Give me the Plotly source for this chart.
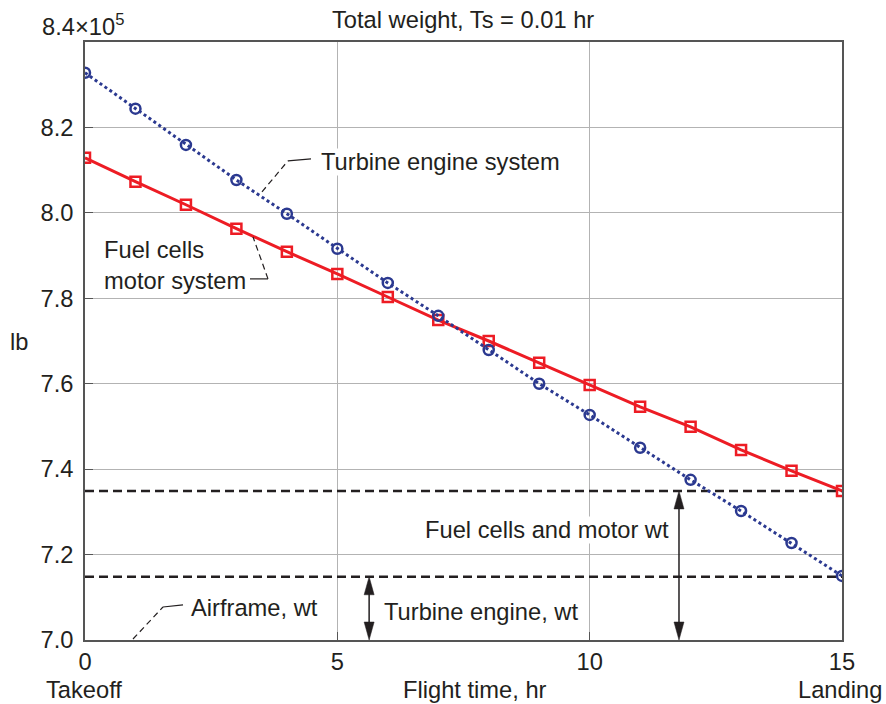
import plotly.graph_objects as go

# ---- data (values in 10^5 lb) ----
hours = list(range(16))
turbine_weight = [8.328, 8.244, 8.159, 8.077, 7.998, 7.916, 7.836, 7.759,
                  7.679, 7.600, 7.527, 7.450, 7.375, 7.302, 7.227, 7.150]
fuelcell_weight = [8.129, 8.073, 8.019, 7.963, 7.909, 7.857, 7.803, 7.749,
                   7.700, 7.649, 7.597, 7.546, 7.499, 7.445, 7.396, 7.349]
fuelcell_landing_level = 7.349
turbine_landing_level = 7.148
airframe_level = 7.0
x_ticks = [0, 5, 10, 15]
x_tick_labels = ["0", "5", "10", "15"]
y_ticks = [7.0, 7.2, 7.4, 7.6, 7.8, 8.0, 8.2]
y_tick_labels = ["7.0", "7.2", "7.4", "7.6", "7.8", "8.0", "8.2"]
turbine_arrow_x = 5.63
fuelcell_arrow_x = 11.77

FONT = "Liberation Sans, Arial, Helvetica, sans-serif"
TXT = "#231f20"
FS = 23.7
BLUE = "#2b3990"
RED = "#ed1c24"

W, H = 886, 704
L, R, T, B = 85, 44, 42, 64
pw, ph = W - L - R, H - T - B
X_PER_PX = 15 / pw
Y_PER_PX = 1.4 / ph

fig = go.Figure()

# dashed landing levels
for lvl in [fuelcell_landing_level, turbine_landing_level]:
    fig.add_trace(go.Scatter(x=[hours[0], hours[-1]], y=[lvl, lvl], mode="lines",
                             line=dict(color="#231f20", width=2.6, dash="9px,5px"),
                             hoverinfo="skip", showlegend=False))

fig.add_trace(go.Scatter(x=hours, y=fuelcell_weight, mode="lines+markers",
                         line=dict(color=RED, width=3),
                         marker=dict(symbol="square-open", size=10, color=RED,
                                     line=dict(width=2.5, color=RED)),
                         showlegend=False))
fig.add_trace(go.Scatter(x=hours, y=turbine_weight, mode="lines+markers",
                         line=dict(color=BLUE, width=3, dash="dot"),
                         marker=dict(symbol="circle-open", size=10, color=BLUE,
                                     line=dict(width=2.5, color=BLUE)),
                         showlegend=False))

# leader lines
def leader(pts_dash, pts_solid):
    fig.add_trace(go.Scatter(x=[p[0] for p in pts_dash], y=[p[1] for p in pts_dash],
                             mode="lines", line=dict(color=TXT, width=1.2, dash="6px,4px"),
                             hoverinfo="skip", showlegend=False))
    fig.add_trace(go.Scatter(x=[p[0] for p in pts_solid], y=[p[1] for p in pts_solid],
                             mode="lines", line=dict(color=TXT, width=1.2),
                             hoverinfo="skip", showlegend=False))

leader([(0.951, 7.0023), (1.545, 7.0773)], [(1.545, 7.0773), (1.942, 7.082)])
leader([(3.507, 8.0492), (4.022, 8.1218)], [(4.022, 8.1218), (4.478, 8.1265)])
leader([(3.626, 7.8454), (3.329, 7.9438)], [(3.269, 7.8454), (3.626, 7.8454)])

# double-headed arrows (shaft + filled heads)
HEAD_LEN = 18 * Y_PER_PX
HEAD_HALF = 5 * X_PER_PX
for ax_x, top in [(turbine_arrow_x, turbine_landing_level), (fuelcell_arrow_x, fuelcell_landing_level)]:
    bot = airframe_level
    fig.add_trace(go.Scatter(x=[ax_x, ax_x], y=[bot + HEAD_LEN * 0.5, top - HEAD_LEN * 0.5],
                             mode="lines", line=dict(color=TXT, width=1.5),
                             hoverinfo="skip", showlegend=False))
    for tip, base in [(top, top - HEAD_LEN), (bot, bot + HEAD_LEN)]:
        fig.add_trace(go.Scatter(x=[ax_x, ax_x - HEAD_HALF, ax_x + HEAD_HALF, ax_x],
                                 y=[tip, base, base, tip], mode="lines", fill="toself",
                                 fillcolor=TXT, line=dict(color=TXT, width=0.5),
                                 hoverinfo="skip", showlegend=False))

annotations = []

def label(text, x, y, xanchor="left", align="left"):
    annotations.append(dict(x=x, y=y, xref="x", yref="y", text=text, showarrow=False,
                            xanchor=xanchor, yanchor="middle", align=align,
                            bgcolor="white", borderpad=0,
                            font=dict(family=FONT, size=FS, color=TXT)))

label("Fuel cells and motor wt", 11.59, 7.258, xanchor="right")
label("Turbine engine, wt", 5.905, 7.0656)
label("Airframe, wt", 2.08, 7.075)
label("Turbine engine system", 4.656, 8.1194)
label("Fuel cells<br>motor system", 0.357, 7.877)

def paper_text(text, x, y, xanchor="center"):
    annotations.append(dict(x=x, y=y, xref="paper", yref="paper", text=text,
                            showarrow=False, xanchor=xanchor, yanchor="middle",
                            font=dict(family=FONT, size=FS, color=TXT)))

px = lambda p: (p - L) / pw
py = lambda p: (H - B - p) / ph

paper_text("Total weight, Ts = 0.01 hr", px(463), py(20))
paper_text("8.4×10<sup>5</sup>", px(40), py(25), xanchor="left")
paper_text("lb", px(19), py(342))
paper_text("Takeoff", px(84), py(690))
paper_text("Flight time, hr", px(475), py(690))
paper_text("Landing", px(840), py(690))

fig.update_layout(
    width=W, height=H,
    margin=dict(l=L, r=R, t=T, b=B),
    plot_bgcolor="white", paper_bgcolor="white",
    font=dict(family=FONT, size=FS, color=TXT),
    annotations=annotations,
    hovermode=False,
    xaxis=dict(range=[0, 15], tickvals=x_ticks, ticktext=x_tick_labels,
               showgrid=True, gridcolor="#b3b3b3", gridwidth=1,
               showline=True, linecolor="#555555", linewidth=1.6, mirror=True,
               ticks="inside", ticklen=8, tickcolor="#555555", tickwidth=1.2,
               zeroline=False, tickfont=dict(family=FONT, size=FS, color=TXT)),
    yaxis=dict(range=[7.0, 8.4], tickvals=y_ticks, ticktext=y_tick_labels,
               showgrid=True, gridcolor="#b3b3b3", gridwidth=1,
               showline=True, linecolor="#555555", linewidth=1.6, mirror=True,
               ticks="inside", ticklen=8, tickcolor="#555555", tickwidth=1.2,
               zeroline=False, ticklabelstandoff=5,
               tickfont=dict(family=FONT, size=FS, color=TXT)),
)

fig.write_html("out.html", config={"displayModeBar": False},
               post_script="document.body.style.margin='0px';")
